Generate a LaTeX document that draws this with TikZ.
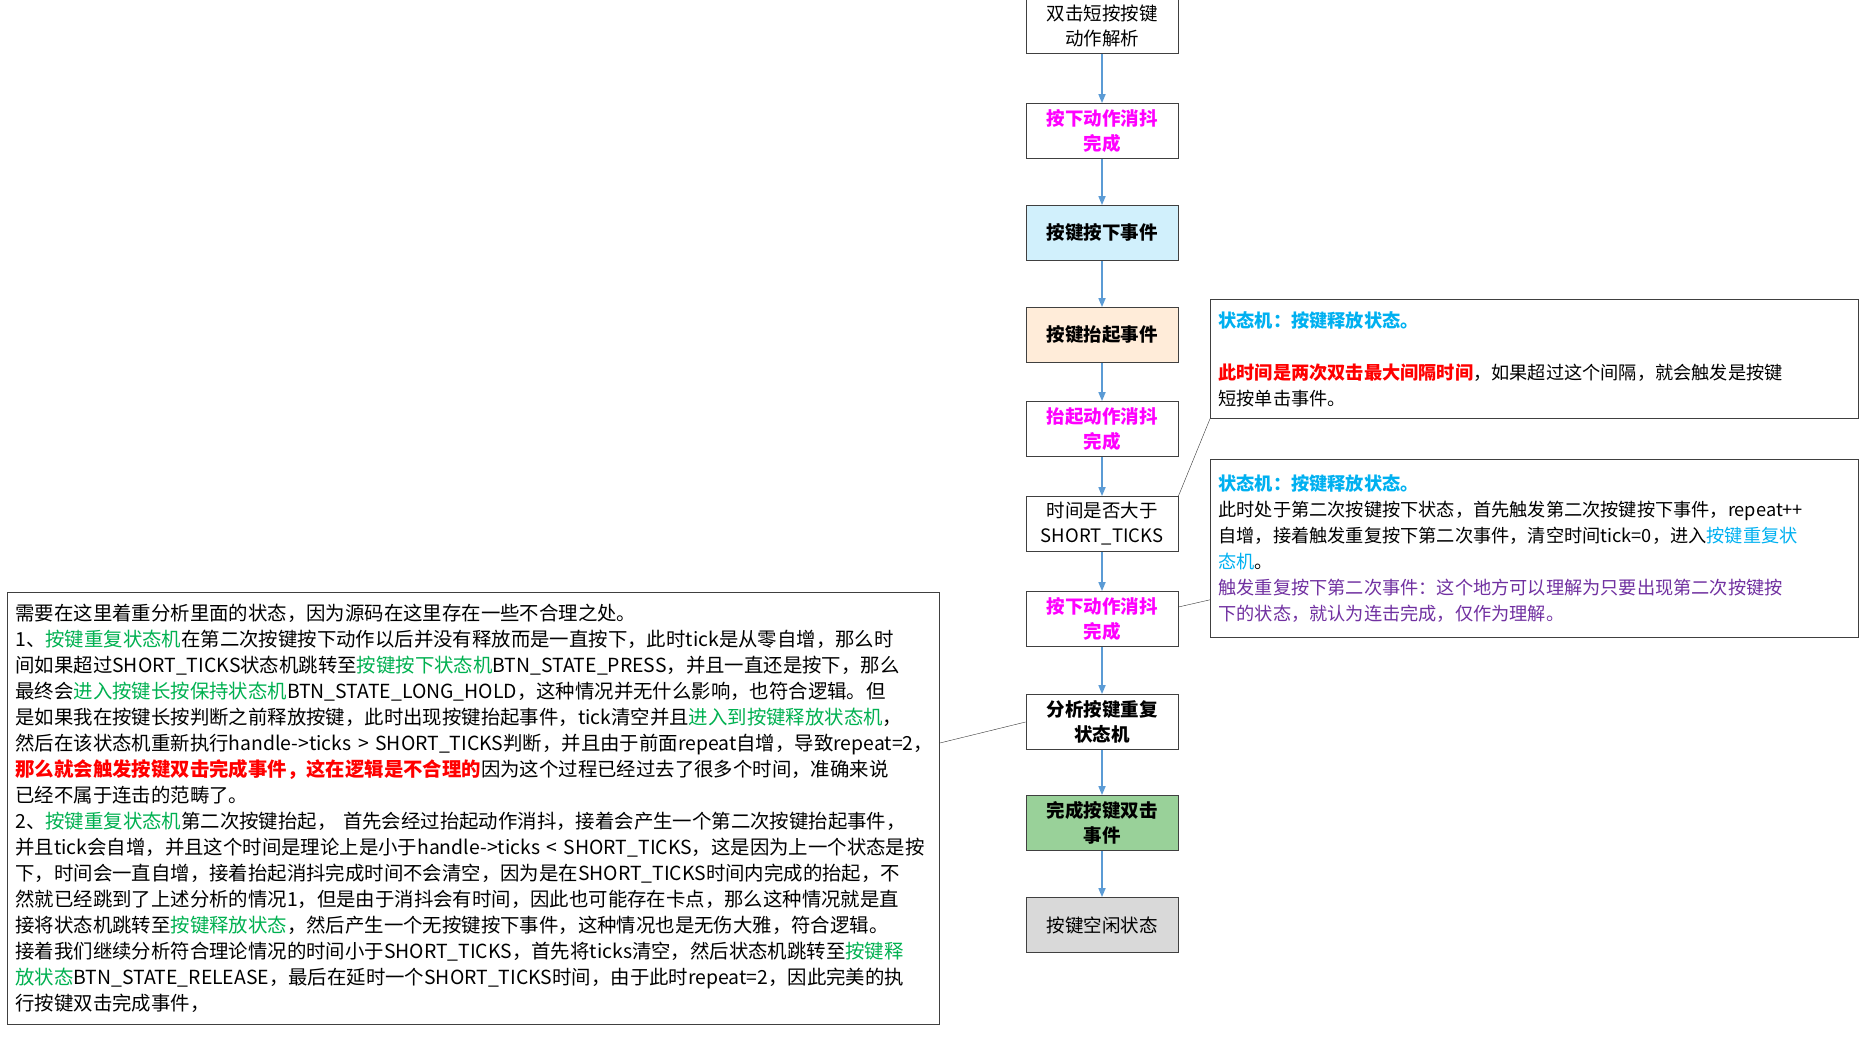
\documentclass[tikz,border=0pt]{standalone}
\usepackage{fontspec}
\setmainfont{Noto Sans CJK SC}
\usepackage{tikz}
\usetikzlibrary{arrows.meta, positioning, calc}
\definecolor{flowBlue}{HTML}{5B9BD5}
\definecolor{keyGreen}{HTML}{00B050}
\definecolor{stateCyan}{HTML}{00B0F0}
\definecolor{debMagenta}{HTML}{FF00FF}
\definecolor{noteRed}{HTML}{FF0000}
\definecolor{notePurple}{HTML}{7030A0}
\tikzset{
    stepbox/.style={draw=black!75, thick, minimum width=152pt, minimum height=55pt,
        align=center, font=\fontsize{18.5}{25}\selectfont, inner sep=2pt},
    notebox/.style={draw=black!75, thick, anchor=north west, align=left,
        font=\fontsize{18.2}{26}\selectfont, inner sep=8pt},
    flowarrow/.style={-{Triangle[length=9pt,width=7pt]}, flowBlue, line width=1.6pt},
    noteline/.style={black!80, thin}
}
\newcommand{\gk}[1]{\textcolor{keyGreen}{#1}}
\begin{document}
\begin{tikzpicture}[x=1pt, y=-1pt]
        \useasboundingbox (0,0) rectangle (1868,1036);
        % flow of the double click
        \node[stepbox] (start) at (1102,26) {双击短按按键\\动作解析};
        \node[stepbox, text=debMagenta] (deb1) at (1102,131) {\textbf{按下动作消抖}\\\textbf{完成}};
        \node[stepbox, fill=cyan!18, font=\fontsize{18.5}{25}\selectfont\bfseries] (press) at (1102,233) {按键按下事件};
        \node[stepbox, fill=orange!15, font=\fontsize{18.5}{25}\selectfont\bfseries] (release) at (1102,335) {按键抬起事件};
        \node[stepbox, text=debMagenta] (deb2) at (1102,429) {\textbf{抬起动作消抖}\\\textbf{完成}};
        \node[stepbox] (check) at (1102,524) {时间是否大于\\SHORT\_TICKS};
        \node[stepbox, text=debMagenta] (deb3) at (1102,619) {\textbf{按下动作消抖}\\\textbf{完成}};
        \node[stepbox, font=\fontsize{18.5}{25}\selectfont\bfseries] (repeat) at (1102,722) {分析按键重复\\状态机};
        \node[stepbox, fill=green!55!black!40, font=\fontsize{18.5}{25}\selectfont\bfseries] (done) at (1102,823) {完成按键双击\\事件};
        \node[stepbox, fill=black!15] (idle) at (1102,925) {按键空闲状态};
        \foreach \a/\b in {start/deb1, deb1/press, press/release, release/deb2, deb2/check, check/deb3, deb3/repeat, repeat/done, done/idle}
            \draw[flowarrow] (\a) -- (\b);

        % notes
        \node[notebox, text width=632pt, minimum height=119pt] (noteA) at (1210,299)
            {\textcolor{stateCyan}{\textbf{状态机：按键释放状态。}}\\[26pt]
             \textcolor{noteRed}{\textbf{此时间是两次双击最大间隔时间}}，如果超过这个间隔，就会触发是按键\\短按单击事件。};
        \node[notebox, text width=632pt, minimum height=178pt] (noteB) at (1210,459)
            {\textcolor{stateCyan}{\textbf{状态机：按键释放状态。}}\\
             此时处于第二次按键按下状态，首先触发第二次按键按下事件，repeat++\\
             自增，接着触发重复按下第二次事件，清空时间tick=0，进入\textcolor{stateCyan}{按键重复状}\\
             \textcolor{stateCyan}{态机}。\\
             \textcolor{notePurple}{触发重复按下第二次事件：这个地方可以理解为只要出现第二次按键按}\\
             \textcolor{notePurple}{下的状态，就认为连击完成，仅作为理解。}};
        \node[notebox, text width=916pt, minimum height=432pt, font=\fontsize{19.4}{26}\selectfont] (noteC) at (7,592)
            {需要在这里着重分析里面的状态，因为源码在这里存在一些不合理之处。\\
             1、\gk{按键重复状态机}在第二次按键按下动作以后并没有释放而是一直按下，此时tick是从零自增，那么时\\
             间如果超过SHORT\_TICKS状态机跳转至\gk{按键按下状态机}BTN\_STATE\_PRESS，并且一直还是按下，那么\\
             最终会\gk{进入按键长按保持状态机}BTN\_STATE\_LONG\_HOLD，这种情况并无什么影响，也符合逻辑。但\\
             是如果我在按键长按判断之前释放按键，此时出现按键抬起事件，tick清空并且\gk{进入到按键释放状态机}，\\
             然后在该状态机重新执行handle->ticks > SHORT\_TICKS判断，并且由于前面repeat自增，导致repeat=2，\\
             \textcolor{noteRed}{\textbf{那么就会触发按键双击完成事件，这在逻辑是不合理的}}因为这个过程已经过去了很多个时间，准确来说\\
             已经不属于连击的范畴了。\\
             2、\gk{按键重复状态机}第二次按键抬起， 首先会经过抬起动作消抖，接着会产生一个第二次按键抬起事件，\\
             并且tick会自增，并且这个时间是理论上是小于handle->ticks < SHORT\_TICKS，这是因为上一个状态是按\\
             下，时间会一直自增，接着抬起消抖完成时间不会清空，因为是在SHORT\_TICKS时间内完成的抬起，不\\
             然就已经跳到了上述分析的情况1，但是由于消抖会有时间，因此也可能存在卡点，那么这种情况就是直\\
             接将状态机跳转至\gk{按键释放状态}，然后产生一个无按键按下事件，这种情况也是无伤大雅，符合逻辑。\\
             接着我们继续分析符合理论情况的时间小于SHORT\_TICKS，首先将ticks清空，然后状态机跳转至\gk{按键释}\\
             \gk{放状态}BTN\_STATE\_RELEASE，最后在延时一个SHORT\_TICKS时间，由于此时repeat=2，因此完美的执\\
             行按键双击完成事件，};

        % connectors to notes
        \draw[noteline] (check.north east) -- (noteA.south west);
        \draw[noteline] ($(deb3.east)+(0,-12)$) -- ($(noteB.south west)+(0,-38)$);
        \draw[noteline] (repeat.west) -- ($(noteC.north east)+(0,151)$);
    \end{tikzpicture}
\end{document}
